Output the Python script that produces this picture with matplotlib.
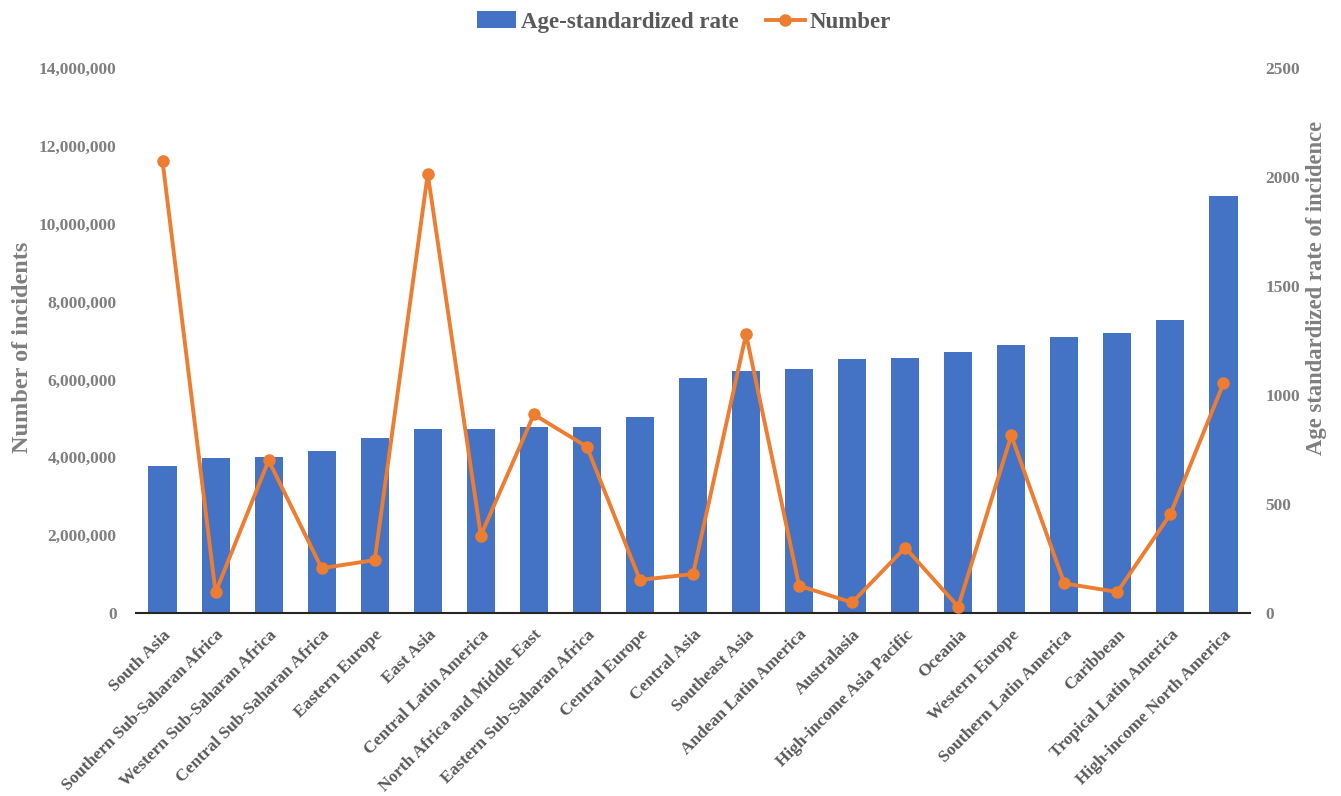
import matplotlib
matplotlib.use("Agg")
import matplotlib.pyplot as plt
from matplotlib.lines import Line2D
from matplotlib.patches import Patch
from matplotlib.ticker import FuncFormatter

regions = ["South Asia", "Southern Sub-Saharan Africa", "Western Sub-Saharan Africa",
           "Central Sub-Saharan Africa", "Eastern Europe", "East Asia",
           "Central Latin America", "North Africa and Middle East",
           "Eastern Sub-Saharan Africa", "Central Europe", "Central Asia",
           "Southeast Asia", "Andean Latin America", "Australasia",
           "High-income Asia Pacific", "Oceania", "Western Europe",
           "Southern Latin America", "Caribbean", "Tropical Latin America",
           "High-income North America"]

asr = [673, 710, 716, 743, 804, 844, 846, 853, 855, 898, 1079,
       1112, 1121, 1167, 1171, 1196, 1231, 1265, 1284, 1343, 1913]

number = [11610000, 530000, 3920000, 1150000, 1360000, 11280000, 1990000,
          5100000, 4270000, 850000, 1000000, 7160000, 700000, 270000,
          1680000, 160000, 4560000, 760000, 540000, 2540000, 5900000]

FONT = "Liberation Serif"
GRAY = "#7f7f7f"
DGRAY = "#595959"
BLUE = "#4472C4"
ORANGE = "#ED7D31"

plt.rcParams["font.family"] = [FONT, "DejaVu Serif"]
plt.rcParams["font.weight"] = "bold"

W, H = 1341, 796
L, R, T, B = 136, 1250, 68, 613
fig = plt.figure(figsize=(W / 100, H / 100), dpi=100)
ax = fig.add_axes([L / W, 1 - B / H, (R - L) / W, (B - T) / H])
ax2 = ax.twinx()

x = list(range(len(regions)))
ax2.bar(x, asr, width=0.53, color=BLUE, zorder=2)
ax.plot(x, number, color=ORANGE, lw=2.8, marker="o", ms=8, zorder=3)

ax.set_zorder(ax2.get_zorder() + 1)
ax.patch.set_visible(False)

ax.set_xlim(-0.5, len(regions) - 0.5)
ax.set_ylim(0, 14000000)
ax2.set_ylim(0, 2500)
ax.set_yticks(range(0, 14000001, 2000000))
ax2.set_yticks(range(0, 2501, 500))
ax.yaxis.set_major_formatter(FuncFormatter(lambda v, p: f"{int(v):,}"))

for a in (ax, ax2):
    for s in a.spines.values():
        s.set_visible(False)
ax.spines["bottom"].set_visible(True)
ax.spines["bottom"].set_color("#262626")
ax.spines["bottom"].set_linewidth(1.5)

ax.tick_params(axis="y", length=0, pad=14, labelsize=12.5, labelcolor=GRAY)
ax2.tick_params(axis="y", length=0, pad=11, labelsize=12.5, labelcolor=GRAY)
ax.set_xticks(x)
ax.set_xticklabels(regions, rotation=45, ha="right", rotation_mode="anchor",
                   fontsize=12.5, color=DGRAY)
ax.tick_params(axis="x", length=0, pad=10)
ax2.tick_params(axis="x", length=0)

ax.set_ylabel("Number of incidents", fontsize=17.5, color=GRAY, fontweight="bold")
ax.yaxis.set_label_coords((33 - L) / (R - L), (B - 347) / (B - T))
ax2.set_ylabel("Age standardized rate of incidence", fontsize=16.3, color=GRAY,
               fontweight="bold")
ax2.yaxis.set_label_coords((1306 - L) / (R - L), (B - 288) / (B - T))

handles = [Patch(facecolor=BLUE, label="Age-standardized rate"),
           Line2D([0], [0], color=ORANGE, lw=2.8, marker="o", ms=8, label="Number")]
fig.legend(handles=handles, loc="center", bbox_to_anchor=(684 / W, 1 - 22 / H), ncol=2,
           frameon=False, prop={"family": FONT, "weight": "bold", "size": 16.5},
           labelcolor=DGRAY, handlelength=1.7, handleheight=0.7,
           columnspacing=1.2, handletextpad=0.2)

fig.savefig("out.png", dpi=100)
